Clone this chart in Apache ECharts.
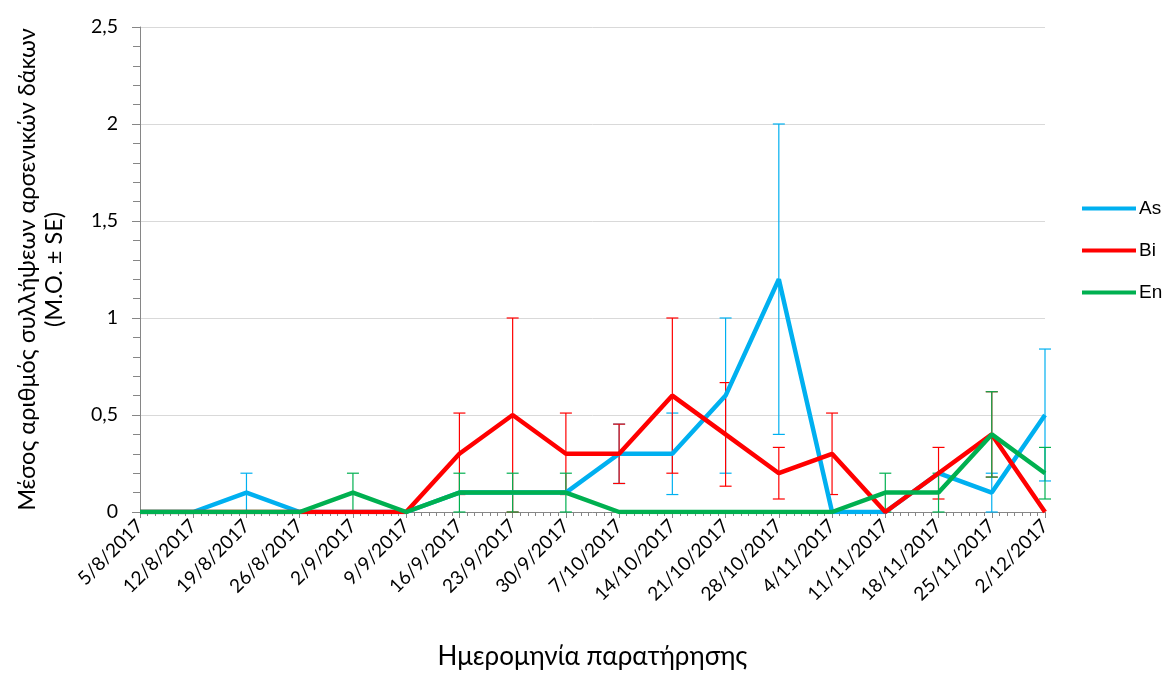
<!DOCTYPE html>
<html>
<head>
<meta charset="utf-8">
<script src="https://cdn.jsdelivr.net/npm/echarts@6/dist/echarts.min.js"></script>
<style>html,body{margin:0;padding:0;background:#fff}#c{width:1165px;height:675px}</style>
</head>
<body>
<div id="c"></div>
<script>
const dates = ['5/8/2017','12/8/2017','19/8/2017','26/8/2017','2/9/2017','9/9/2017','16/9/2017','23/9/2017','30/9/2017','7/10/2017','14/10/2017','21/10/2017','28/10/2017','4/11/2017','11/11/2017','18/11/2017','25/11/2017','2/12/2017'];
const dayOffsets = [0,7,14,21,28,35,42,49,56,63,70,77,84,91,98,105,112,119];
const asMean = [0,0,0.1,0,0,0,0.1,0.1,0.1,0.3,0.3,0.6,1.2,0,0,0.2,0.1,0.5];
const asSE   = [0,0,0.1,0,0,0,0,0,0,0.153,0.21,0.4,0.8,0,0,0,0.1,0.34];
const biMean = [0,0,0,0,0,0,0.3,0.5,0.3,0.3,0.6,0.4,0.2,0.3,0,0.2,0.4,0];
const biSE   = [0,0,0,0,0,0,0.21,0.5,0.21,0.153,0.4,0.267,0.133,0.21,0,0.133,0.22,0];
const enMean = [0,0,0,0,0.1,0,0.1,0.1,0.1,0,0,0,0,0,0.1,0.1,0.4,0.2];
const enSE   = [0,0,0,0,0.1,0,0.1,0.1,0.1,0,0,0,0,0,0.1,0.1,0.22,0.133];
const yTicks = ['0','0,5','1','1,5','2','2,5'];

const colors = {As:'#00B0F0', Bi:'#FF0000', En:'#00B050'};
const font = 'Lato, "Open Sans", sans-serif';

function lineData(mean){ return mean.map((v,i)=>[dayOffsets[i], v]); }
function errData(mean, se){
  const out = [];
  mean.forEach((v,i)=>{ if (se[i] > 0) out.push([dayOffsets[i], v - se[i], v + se[i]]); });
  return out;
}
function errSeries(name, mean, se, color){
  return {
    type:'custom', name: name + '_err', silent:true, z:3,
    data: errData(mean, se),
    encode:{x:0, y:[1,2]},
    renderItem: function(params, api){
      const x = api.value(0);
      const lo = api.coord([x, api.value(1)]);
      const hi = api.coord([x, api.value(2)]);
      const w = 6;
      const st = {stroke: color, lineWidth: 1.2};
      return {type:'group', children:[
        {type:'line', shape:{x1:lo[0], y1:lo[1], x2:hi[0], y2:hi[1]}, style:st},
        {type:'line', shape:{x1:hi[0]-w, y1:hi[1], x2:hi[0]+w, y2:hi[1]}, style:st},
        {type:'line', shape:{x1:lo[0]-w, y1:lo[1], x2:lo[0]+w, y2:lo[1]}, style:st}
      ]};
    }
  };
}
function lineSeries(name, mean){
  return {type:'line', name:name, data: lineData(mean), symbol:'none', z:3,
    lineStyle:{width:4.5, color: colors[name]}, itemStyle:{color: colors[name]}};
}

const chart = echarts.init(document.getElementById('c'), null, {renderer:'canvas'});
chart.setOption({
  animation:false,
  backgroundColor:'#fff',
  grid:{left:140, right:120, top:27, bottom:162},
  legend:{
    data:['As','Bi','En'], orient:'vertical', left:1077, top:194,
    itemWidth:54, itemHeight:14, itemGap:23,
    textStyle:{fontFamily:'"Liberation Sans", Arial, sans-serif', fontSize:19, color:'#000', padding:[0,0,0,-2]},
    icon:'path://M0,5 L54,5 L54,9 L0,9 Z'
  },
  xAxis:{
    type:'value', min:0, max:119, interval:7,
    name:'Ημερομηνία παρατήρησης', nameLocation:'middle', nameGap:132,
    nameTextStyle:{fontFamily:font, fontSize:26, color:'#000'},
    axisLine:{show:true, lineStyle:{color:'#868686', width:1}},
    axisTick:{show:true, length:6, lineStyle:{color:'#868686'}},
    minorTick:{show:true, splitNumber:7, length:4, lineStyle:{color:'#868686'}},
    splitLine:{show:false},
    axisLabel:{rotate:45, margin:11, fontFamily:font, fontSize:19, color:'#000',
      formatter: v => { const i = dayOffsets.indexOf(v); return i >= 0 ? dates[i] : ''; }}
  },
  yAxis:{
    type:'value', min:0, max:2.5, interval:0.5,
    name:'Μέσος αριθμός συλλήψεων αρσενικών δάκων\n(Μ.Ο. ± SE)',
    nameLocation:'middle', nameGap:72, nameRotate:90,
    nameTextStyle:{fontFamily:font, fontSize:23.5, color:'#000', lineHeight:27, align:'center'},
    axisLine:{show:true, lineStyle:{color:'#868686', width:1}},
    axisTick:{show:true, length:8, lineStyle:{color:'#868686'}},
    minorTick:{show:true, splitNumber:5, length:7, lineStyle:{color:'#868686'}},
    splitLine:{show:true, lineStyle:{color:'#D9D9D9', width:1}},
    axisLabel:{margin:22, fontFamily:font, fontSize:19.5, color:'#000',
      formatter: v => yTicks[Math.round(v/0.5)]}
  },
  series:[
    lineSeries('As', asMean), errSeries('As', asMean, asSE, colors.As),
    lineSeries('Bi', biMean), errSeries('Bi', biMean, biSE, colors.Bi),
    lineSeries('En', enMean), errSeries('En', enMean, enSE, colors.En)
  ]
});
</script>
</body>
</html>
